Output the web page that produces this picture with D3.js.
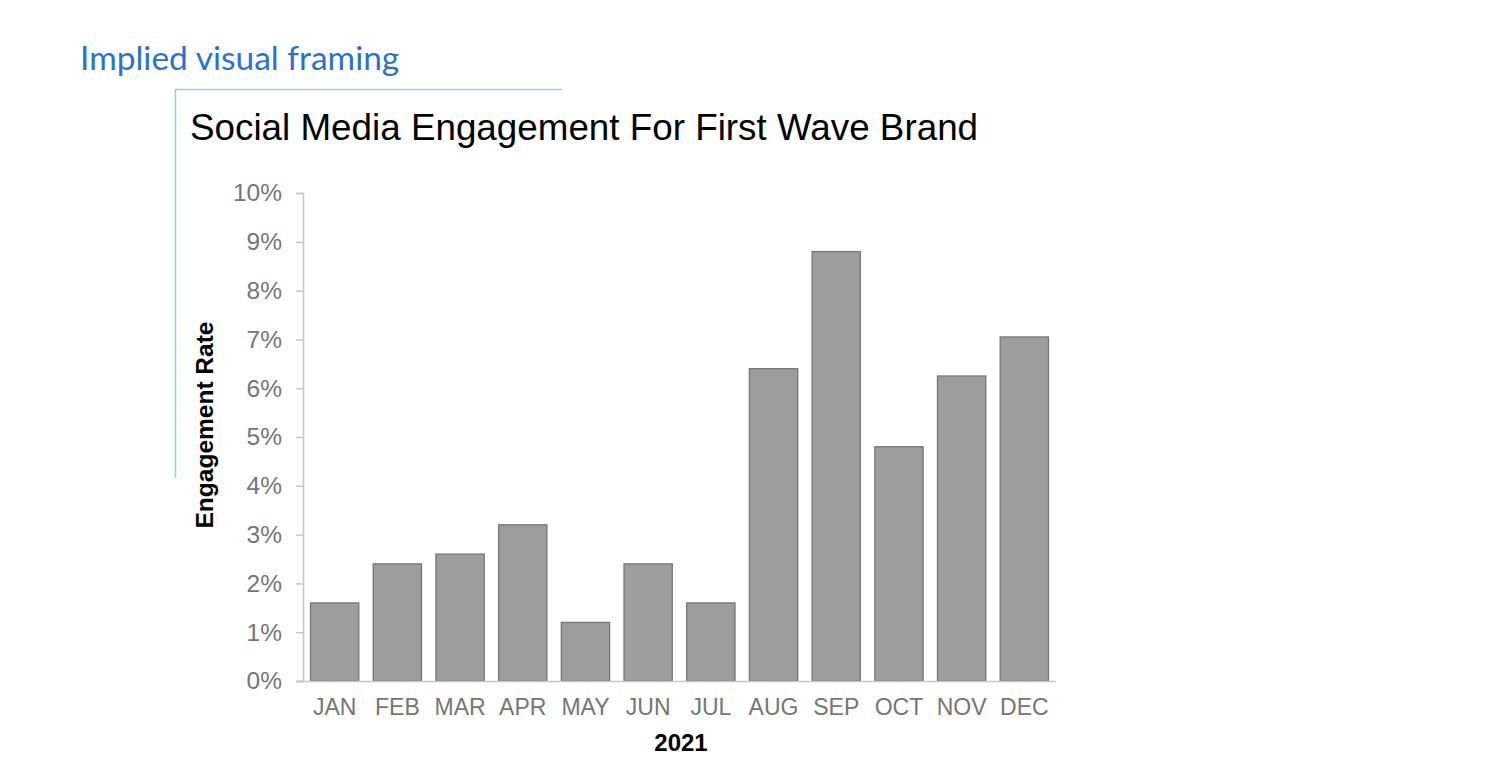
<!DOCTYPE html>
<html>
<head>
<meta charset="utf-8">
<script src="https://cdn.jsdelivr.net/npm/d3@7"></script>
<style>
  html, body { margin: 0; padding: 0; background: #fff; }
  svg { display: block; }
</style>
</head>
<body>
<svg id="chart" width="1500" height="784"></svg>
<script>
const months = ["JAN","FEB","MAR","APR","MAY","JUN","JUL","AUG","SEP","OCT","NOV","DEC"];
const engagement = [1.6, 2.4, 2.6, 3.2, 1.2, 2.4, 1.6, 6.4, 8.8, 4.8, 6.25, 7.05];
const yTicks = [0,1,2,3,4,5,6,7,8,9,10];
const chartTitle = "Social Media Engagement For First Wave Brand";
const frameLabel = "Implied visual framing";
const yLabel = "Engagement Rate";
const xLabel = "2021";

const svg = d3.select("#chart");
const margin = {left: 303, right: 1056, top: 193, bottom: 681};

const x = d3.scaleBand().domain(months).range([margin.left, margin.right]).paddingInner(0.23).paddingOuter(0.12);
const y = d3.scaleLinear().domain([0, 10]).range([margin.bottom, margin.top]);

// framing
svg.append("line").attr("x1", 175).attr("x2", 562).attr("y1", 89.5).attr("y2", 89.5)
  .attr("stroke", "#a8c8ea").attr("stroke-width", 1.5);
svg.append("line").attr("x1", 175.5).attr("x2", 175.5).attr("y1", 89).attr("y2", 478)
  .attr("stroke", "#a8c8ea").attr("stroke-width", 1.5);
svg.append("text").attr("x", 80).attr("y", 70).text(frameLabel)
  .attr("font-family", "Lato, 'Open Sans', sans-serif").attr("font-size", 33.5)
  .attr("fill", "#2b73c9");

// title
svg.append("text").attr("x", 190).attr("y", 140).text(chartTitle)
  .attr("font-family", "'Liberation Sans', Arial, sans-serif").attr("font-size", 36.8)
  .attr("fill", "#000");

// bars
svg.append("g").selectAll("rect").data(months).join("rect")
  .attr("x", d => x(d))
  .attr("width", x.bandwidth())
  .attr("y", (d, i) => y(engagement[i]))
  .attr("height", (d, i) => y(0) - y(engagement[i]))
  .attr("fill", "#9d9d9d")
  .attr("stroke", "#777")
  .attr("stroke-width", 1.3);

// y axis
const yAxis = d3.axisLeft(y).tickValues(yTicks).tickFormat(d => d + "%").tickSizeOuter(0).tickSize(7).tickPadding(14);
const gy = svg.append("g").attr("transform", `translate(${margin.left},0)`).call(yAxis);
gy.select(".domain").attr("stroke", "#c8c8c8").attr("stroke-width", 1.5);
gy.selectAll(".tick line").attr("stroke", "#c8c8c8").attr("stroke-width", 1.5);
gy.selectAll(".tick text").attr("fill", "#767676")
  .attr("font-family", "'Liberation Sans', Arial, sans-serif").attr("font-size", 24.5);

// x axis
const xAxis = d3.axisBottom(x).tickSize(0).tickPadding(17.5);
const gx = svg.append("g").attr("transform", `translate(0,${margin.bottom})`).call(xAxis);
gx.select(".domain").attr("d", `M${296},0.5H${margin.right}`).attr("stroke", "#c8c8c8").attr("stroke-width", 1.5);
gx.selectAll(".tick text").attr("fill", "#767676")
  .attr("font-family", "'Liberation Sans', Arial, sans-serif").attr("font-size", 23);

// axis titles
svg.append("text").attr("x", 681).attr("y", 751).attr("text-anchor", "middle").text(xLabel)
  .attr("font-family", "'Liberation Sans', Arial, sans-serif").attr("font-size", 24)
  .attr("font-weight", "bold").attr("fill", "#000");
svg.append("text").attr("transform", "translate(213,425) rotate(-90)").attr("text-anchor", "middle").text(yLabel)
  .attr("font-family", "'Liberation Sans', Arial, sans-serif").attr("font-size", 24.5)
  .attr("font-weight", "bold").attr("fill", "#000");
</script>
</body>
</html>
